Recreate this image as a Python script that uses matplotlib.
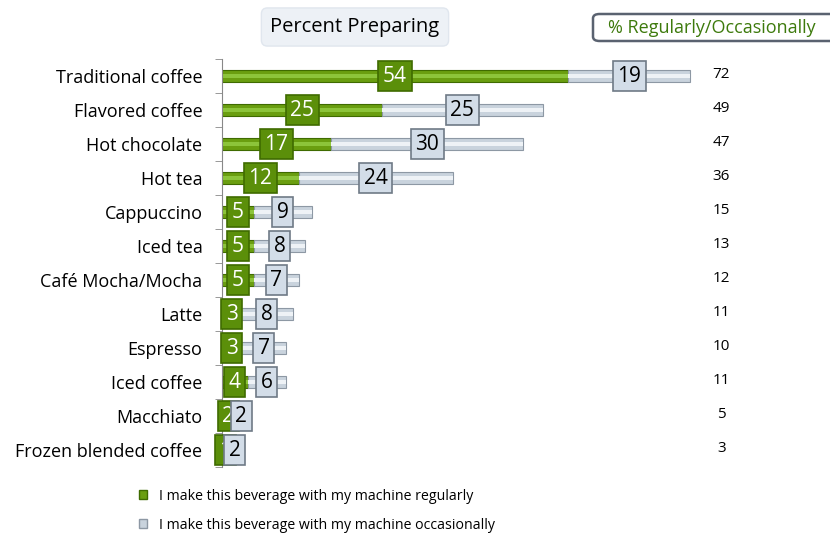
import matplotlib.pyplot as plt
from matplotlib.patches import Patch, FancyBboxPatch

plt.rcParams['font.family'] = ['Open Sans', 'DejaVu Sans']

categories = ['Traditional coffee', 'Flavored coffee', 'Hot chocolate', 'Hot tea',
              'Cappuccino', 'Iced tea', 'Café Mocha/Mocha', 'Latte', 'Espresso',
              'Iced coffee', 'Macchiato', 'Frozen blended coffee']
regularly = [54, 25, 17, 12, 5, 5, 5, 3, 3, 4, 2, 1]
occasionally = [19, 25, 30, 24, 9, 8, 7, 8, 7, 6, 2, 2]
totals = [72, 49, 47, 36, 15, 13, 12, 11, 10, 11, 5, 3]

green = '#6a9e10'
green_dark = '#3f6b00'
green_box = '#5b8f0a'
grey = '#c9d3dd'
grey_dark = '#8d98a4'
grey_box = '#d3dde8'

fig = plt.figure(figsize=(8.3, 5.39), dpi=100)
ax = fig.add_axes([222 / 830, 72 / 539, 80 * 6.41 / 830, 408 / 539])

y = list(range(len(categories)))
ax.barh(y, regularly, height=0.36, color=green, edgecolor=green_dark, linewidth=0.8)
ax.barh(y, occasionally, left=regularly, height=0.36, color=grey,
        edgecolor=grey_dark, linewidth=0.8)
# lighter stripe along the bars
ax.barh(y, regularly, height=0.12, color='#8cc43a', linewidth=0)
ax.barh(y, occasionally, left=regularly, height=0.12, color='#eef2f6', linewidth=0)

for i in y:
    r, o = regularly[i], occasionally[i]
    ax.text(r / 2, i, str(r), ha='center', va='center', fontsize=15, color='white',
            bbox=dict(boxstyle='square,pad=0.22', fc=green_box, ec=green_dark, lw=1.2))
    ax.text(r + o / 2, i, str(o), ha='center', va='center', fontsize=15, color='black',
            bbox=dict(boxstyle='square,pad=0.22', fc=grey_box, ec='#6f7a86', lw=1.2))
    ax.text(77.9, i - 0.05, str(totals[i]), ha='center', va='center', fontsize=11,
            color='black')

ax.set_xlim(0, 80)
ax.set_ylim(len(categories) - 0.5, -0.5)
ax.set_yticks(y)
ax.set_yticklabels(categories, fontsize=13)
ax.set_yticks([k + 0.5 for k in range(-1, len(categories))], minor=True)
ax.tick_params(axis='y', which='major', length=0, pad=14)
ax.tick_params(axis='y', which='minor', length=5, color='#888888')
ax.set_xticks([])
for s in ['top', 'right', 'bottom']:
    ax.spines[s].set_visible(False)
ax.spines['left'].set_color('#888888')

# title boxes
fig.text(355 / 830, 1 - 27 / 539, 'Percent Preparing', ha='center', va='center',
         fontsize=14.5, color='black',
         bbox=dict(boxstyle='round,pad=0.45,rounding_size=0.3', fc='#edf1f6', ec='#e0e6ee', lw=1))
box = FancyBboxPatch((593 / 830, 1 - 41 / 539), 250 / 830, 27 / 539,
                     boxstyle='round,pad=0,rounding_size=0.008', transform=fig.transFigure,
                     fc='white', ec='#5a6270', lw=1.8, clip_on=False)
fig.add_artist(box)
fig.text(712 / 830, 1 - 28 / 539, '% Regularly/Occasionally', ha='center', va='center',
         fontsize=13, color='#3d7a0c')

handles = [Patch(fc=green, ec=green_dark), Patch(fc=grey, ec=grey_dark)]
fig.legend(handles, ['I make this beverage with my machine regularly',
                     'I make this beverage with my machine occasionally'],
           loc='upper left', bbox_to_anchor=(126 / 830, 1 - 476 / 539), frameon=False,
           fontsize=10.2, handlelength=0.6, handleheight=0.6, handletextpad=0.8,
           labelspacing=1.0)

fig.savefig('out.png', dpi=100)
